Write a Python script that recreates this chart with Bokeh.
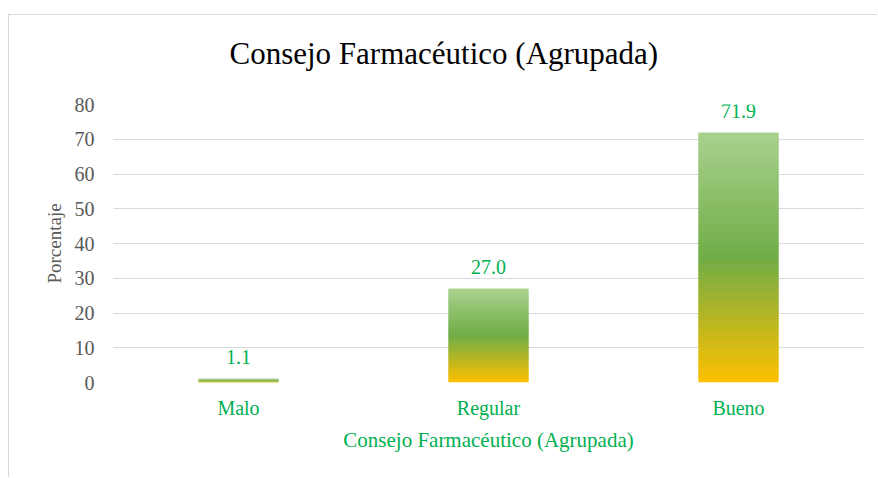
import numpy as np
from bokeh.plotting import figure
from bokeh.models import ColumnDataSource, FactorRange, Range1d, FixedTicker, LabelSet, Title
from bokeh.embed import file_html
from bokeh.resources import INLINE

categories = ["Malo", "Regular", "Bueno"]
values = [1.1, 27.0, 71.9]
y_ticks = [0, 10, 20, 30, 40, 50, 60, 70, 80]

title_text = "Consejo Farmacéutico (Agrupada)"
x_title = "Consejo Farmacéutico (Agrupada)"
y_title = "Porcentaje"

SERIF = "Liberation Serif"
GREEN_TXT = "#00B050"
GRAY_TXT = "#595959"
GRID = "#D9D9D9"

title = Title(text=title_text, align="left", offset=116, standoff=0, vertical_align="bottom",
              text_font=SERIF, text_font_size="31px", text_font_style="normal",
              text_color="#000000")

p = figure(
    x_range=FactorRange(*categories, range_padding=0),
    y_range=Range1d(0, 80),
    width=869, height=463,
    title=title,
    output_backend="svg", toolbar_location=None,
    min_border_left=104, min_border_right=15,
    min_border_top=89, min_border_bottom=96,
)
p.styles = {"border-top": "1px solid #D9D9D9", "border-left": "1px solid #D9D9D9",
            "margin-top": "14px", "margin-left": "8px"}
p.outline_line_color = None

# empty spacer between the frame and the title, to lift the title
p.add_layout(Title(text=" ", text_font_size="1px", standoff=31), "above")

# gradient bars built from overlapping slices of each value
stops = np.array([0.0, 0.5, 1.0])
cols = np.array([[0xFF, 0xC0, 0x00], [0x70, 0xAD, 0x47], [0xA9, 0xD1, 0x8E]], dtype=float)
N = 120
xs, bottoms, tops, colors = [], [], [], []
for cat, v in zip(categories, values):
    for i in range(N):
        f = (i + 0.5) / N
        rgb = [int(round(np.interp(f, stops, cols[:, k]))) for k in range(3)]
        xs.append(cat)
        bottoms.append(v * i / N)
        tops.append(min(v, v * (i + 2) / N))
        colors.append("#%02x%02x%02x" % tuple(rgb))
src = ColumnDataSource(dict(x=xs, bottom=bottoms, top=tops, color=colors))
p.vbar(x="x", bottom="bottom", top="top", width=0.32, fill_color="color",
       line_color=None, source=src)

lab_src = ColumnDataSource(dict(x=categories, y=values, t=["%.1f" % v for v in values]))
p.add_layout(LabelSet(x="x", y="y", text="t", source=lab_src, text_align="center",
                      text_baseline="alphabetic", y_offset=15, text_color=GREEN_TXT,
                      text_font=SERIF, text_font_size="20px"))

p.xgrid.grid_line_color = None
p.ygrid.grid_line_color = GRID
p.ygrid.grid_line_width = 1
p.yaxis.ticker = FixedTicker(ticks=y_ticks)

for ax in (p.xaxis, p.yaxis):
    ax.axis_line_color = None
    ax.major_tick_line_color = None
    ax.minor_tick_line_color = None
    ax.major_label_text_font = SERIF
    ax.major_label_text_font_size = "20px"
    ax.axis_label_text_font = SERIF
    ax.axis_label_text_font_style = "normal"

p.yaxis.major_label_text_color = GRAY_TXT
p.yaxis.major_label_standoff = 13
p.yaxis.axis_label = y_title
p.yaxis.axis_label_text_color = GRAY_TXT
p.yaxis.axis_label_text_font_size = "19px"
p.yaxis.axis_label_standoff = 7

p.xaxis.major_label_text_color = GREEN_TXT
p.xaxis.major_label_standoff = 8
p.xaxis.axis_label = x_title
p.xaxis.axis_label_text_color = GREEN_TXT
p.xaxis.axis_label_text_font_size = "21px"
p.xaxis.axis_label_standoff = 6

open("out.html", "w").write(file_html(p, INLINE))
